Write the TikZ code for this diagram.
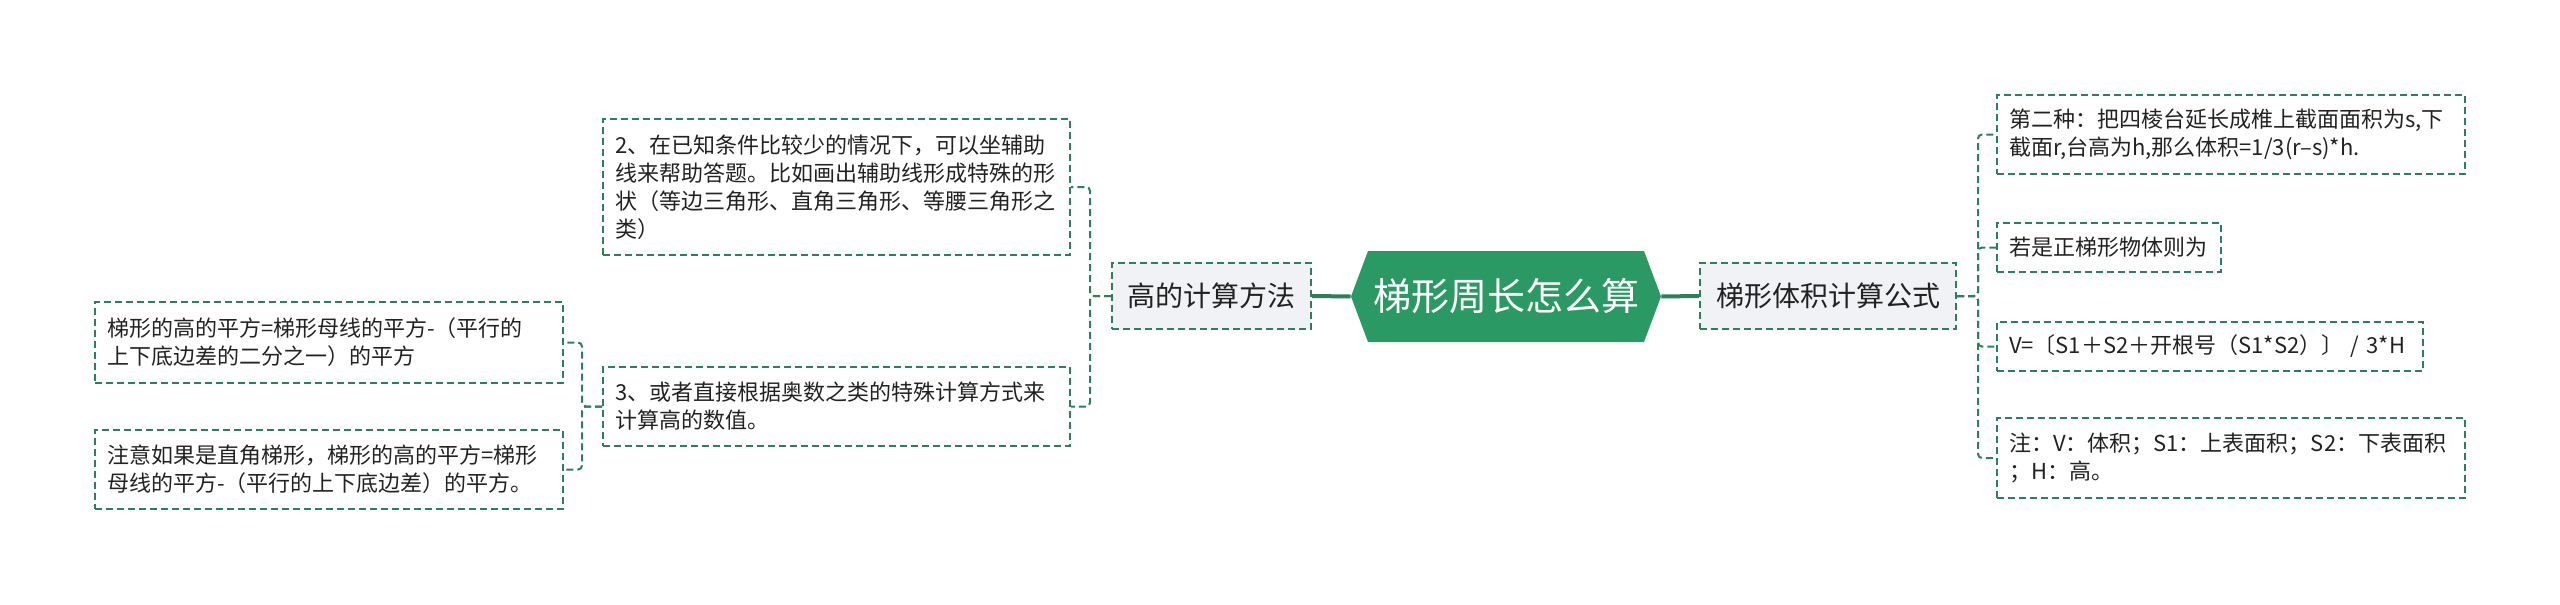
\documentclass[tikz,border=0pt]{standalone}
\usepackage{fontspec}
\setmainfont{Noto Sans CJK SC}
\definecolor{hexg}{HTML}{2A9963}
\definecolor{dg}{HTML}{2E7D5B}
\definecolor{boxg}{HTML}{F0F2F5}
\definecolor{txt}{HTML}{222222}
\tikzset{
  dbox/.style={draw=dg, line width=1pt, dash pattern=on 3.5pt off 2pt, inner xsep=6pt, inner ysep=0pt,
    align=left, text=txt, font=\fontsize{11}{14}\selectfont},
  midbox/.style={draw=dg, fill=boxg, line width=1pt, dash pattern=on 3.5pt off 2pt, inner sep=0pt,
    align=center, text=txt, font=\fontsize{14}{17}\selectfont},
  conn/.style={draw=dg, line width=1pt, dash pattern=on 3.5pt off 2pt, rounded corners=2pt},
  thickconn/.style={draw=dg, line width=2pt}
}
\begin{document}
\begin{tikzpicture}[x=0.5pt,y=-0.5pt]
\useasboundingbox (0,0) rectangle (2560,605);
% central hexagon
\fill[hexg] (1368,251) -- (1644,251) -- (1661,296.5) -- (1644,342) -- (1368,342) -- (1351,296.5) -- cycle;
\node[inner sep=0pt, minimum width=155pt, minimum height=45.5pt, text=white, font=\fontsize{19}{22}\selectfont]
  (c) at (1506,296.5) {梯形周长怎么算};
% level-1 boxes
\node[midbox, minimum width=99.5pt, minimum height=33pt] (gao) at (1211.5,296) {高的计算方法};
\node[midbox, minimum width=128pt, minimum height=33pt] (tiji) at (1828,296) {梯形体积计算公式};
% left leaves
\node[dbox, text width=221.5pt, minimum height=68pt] (b2) at (836.5,187)
  {2、在已知条件比较少的情况下，可以坐辅助\\线来帮助答题。比如画出辅助线形成特殊的形\\状（等边三角形、直角三角形、等腰三角形之\\类）};
\node[dbox, text width=221.5pt, minimum height=39.5pt] (b3) at (836.5,406.5)
  {3、或者直接根据奥数之类的特殊计算方式来\\计算高的数值。};
\node[dbox, text width=222pt, minimum height=40.5pt] (l1) at (329,342.5)
  {梯形的高的平方=梯形母线的平方-（平行的\\上下底边差的二分之一）的平方};
\node[dbox, text width=222pt, minimum height=39.5pt] (l2) at (329,469.5)
  {注意如果是直角梯形，梯形的高的平方=梯形\\母线的平方-（平行的上下底边差）的平方。};
% right leaves
\node[dbox, text width=222pt, minimum height=39.5pt] (r1) at (2231,134.5)
  {第二种：把四棱台延长成椎上截面面积为s,下\\截面r,台高为h,那么体积=1/3(r–s)*h.};
\node[dbox, text width=100pt, minimum height=24.5pt] (r2) at (2109,247.5)
  {若是正梯形物体则为};
\node[dbox, text width=201pt, minimum height=24.5pt] (r3) at (2210,346.5)
  {V=〔S1＋S2＋开根号（S1*S2）〕 / 3*H};
\node[dbox, text width=222pt, minimum height=40pt] (r4) at (2231,458)
  {注：V：体积；S1：上表面积；S2：下表面积\\；H：高。};
% connectors
\draw[thickconn] (c.west) -- (gao.east);
\draw[thickconn] (c.east) -- (tiji.west);
\draw[conn] (gao.west) -- ++(-21,0) |- (b2.east);
\draw[conn] (gao.west) -- ++(-21,0) |- (b3.east);
\draw[conn] (b3.west) -- ++(-20,0) |- (l1.east);
\draw[conn] (b3.west) -- ++(-20,0) |- (l2.east);
\draw[conn] (tiji.east) -- ++(21,0) |- (r1.west);
\draw[conn] (tiji.east) -- ++(21,0) |- (r2.west);
\draw[conn] (tiji.east) -- ++(21,0) |- (r3.west);
\draw[conn] (tiji.east) -- ++(21,0) |- (r4.west);
\end{tikzpicture}
\end{document}
